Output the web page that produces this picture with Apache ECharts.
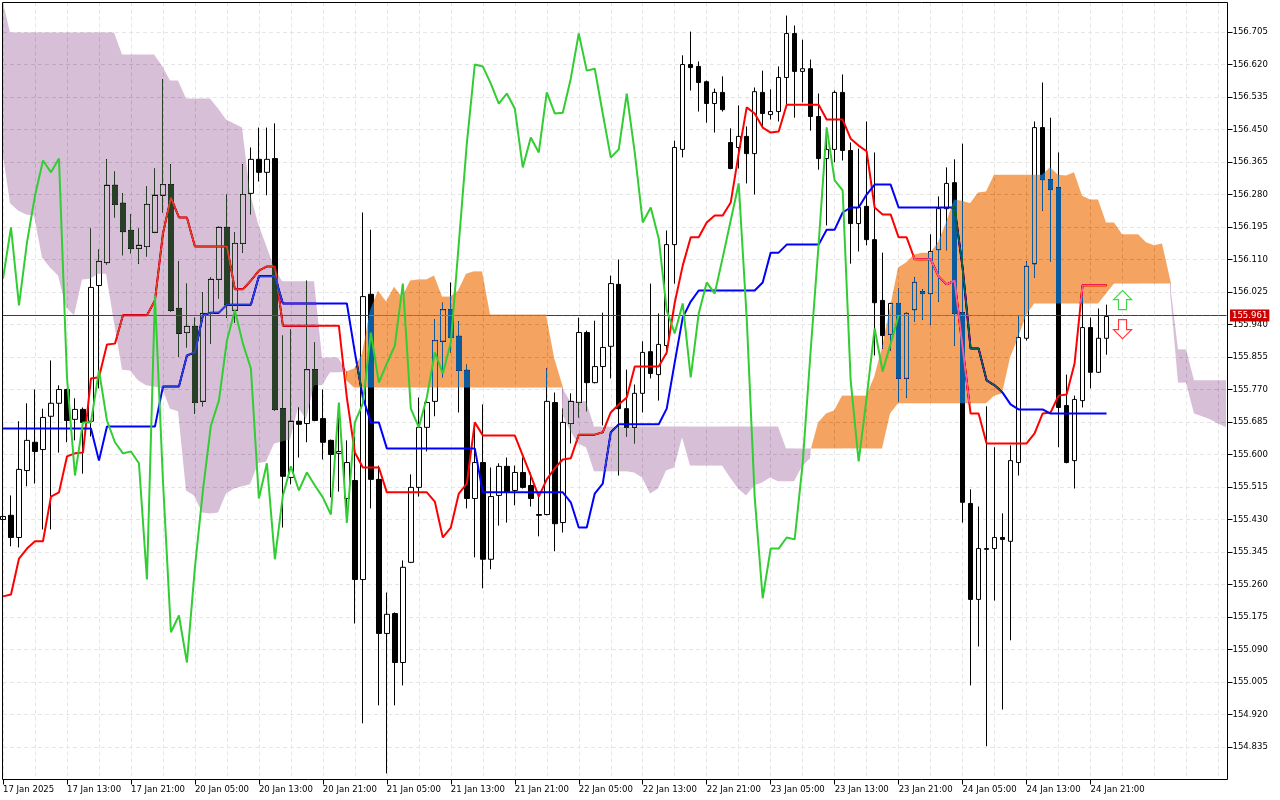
<!DOCTYPE html>
<html>
<head>
<meta charset="utf-8">
<style>html,body{margin:0;padding:0;background:#fff}#chart{width:1280px;height:800px}</style>
<script src="https://cdn.jsdelivr.net/npm/echarts@6/dist/echarts.min.js"></script>
</head>
<body>
<div id="chart"></div>
<script>
const timeLabels = ['17 Jan 2025','17 Jan 13:00','17 Jan 21:00','20 Jan 05:00','20 Jan 13:00','20 Jan 21:00','21 Jan 05:00','21 Jan 13:00','21 Jan 21:00','22 Jan 05:00','22 Jan 13:00','22 Jan 21:00','23 Jan 05:00','23 Jan 13:00','23 Jan 21:00','24 Jan 05:00','24 Jan 13:00','24 Jan 21:00'];
const priceTicks = [154.835,154.920,155.005,155.090,155.175,155.260,155.345,155.430,155.515,155.600,155.685,155.770,155.855,155.940,156.025,156.110,156.195,156.280,156.365,156.450,156.535,156.620,156.705];
const lastPriceLabel = '155.961';
const lastPriceLine = 155.9636;
const arrowUp = [[140,156.004]];
const arrowDown = [[140,155.928]];

const opens = [155.430,155.441,155.383,155.558,155.632,155.613,155.700,155.734,155.770,155.692,
155.718,155.687,156.042,156.102,156.304,156.257,156.186,156.139,156.144,156.181,
156.278,156.306,155.982,155.919,155.935,155.739,155.969,156.058,156.194,155.977,
156.152,156.283,156.372,156.338,156.374,155.720,155.540,155.687,155.681,155.822,
155.694,155.637,155.603,155.485,155.532,155.273,156.019,155.535,155.132,155.184,
155.056,155.318,155.514,155.671,155.739,155.896,155.979,155.909,155.820,155.485,
155.579,155.326,155.493,155.569,155.506,155.553,155.519,155.443,155.443,155.736,
155.422,155.681,155.736,155.919,155.788,155.830,155.883,156.045,155.720,155.671,
155.760,155.869,155.809,155.885,156.149,156.398,156.620,156.615,156.575,156.518,
156.547,156.416,156.403,156.432,156.387,156.547,156.489,156.497,156.586,156.701,
156.602,156.609,156.484,156.374,156.398,156.547,156.395,156.204,156.249,156.162,
156.003,155.914,155.995,155.799,155.979,156.026,156.021,156.136,156.243,156.311,
155.971,155.472,155.221,155.354,155.354,155.383,155.373,155.579,155.904,156.099,
156.455,156.319,156.298,155.728,155.584,155.741,155.932,155.815,155.904];
const closes = [155.438,155.383,155.561,155.637,155.608,155.697,155.734,155.770,155.689,155.718,
155.684,156.037,156.105,156.304,156.254,156.183,156.139,156.147,156.254,156.278,
156.306,155.977,155.917,155.935,155.736,155.969,156.058,156.194,155.992,156.152,
156.280,156.372,156.338,156.372,155.718,155.543,155.687,155.679,155.822,155.689,
155.632,155.600,155.608,155.579,155.273,156.013,155.535,155.132,155.182,155.056,
155.305,155.514,155.671,155.736,155.898,155.979,155.906,155.820,155.485,155.579,
155.326,155.490,155.569,155.501,155.553,155.514,155.485,155.441,155.739,155.419,
155.684,155.739,155.919,155.788,155.830,155.880,156.047,155.720,155.671,155.760,
155.867,155.812,155.888,156.149,156.403,156.620,156.612,156.573,156.518,156.547,
156.502,156.348,156.432,156.387,156.549,156.492,156.497,156.586,156.701,156.602,
156.609,156.484,156.374,156.398,156.547,156.395,156.204,156.246,156.162,155.997,
155.911,155.995,155.799,155.969,156.050,156.021,156.131,156.243,156.309,155.969,
155.475,155.221,155.354,155.352,155.383,155.378,155.584,155.906,156.092,156.455,
156.319,156.293,155.723,155.579,155.744,155.932,155.815,155.904,155.961];
const highs = [155.443,155.493,155.687,155.734,155.770,155.720,155.846,155.781,155.772,155.747,
155.723,156.191,156.136,156.372,156.340,156.283,156.228,156.191,156.301,156.348,
156.581,156.359,156.105,156.047,155.958,156.024,156.063,156.196,156.280,156.181,
156.359,156.403,156.455,156.455,156.466,155.911,155.927,155.723,156.055,155.893,
155.770,155.639,155.697,155.637,155.647,156.233,156.188,155.571,155.239,155.187,
155.323,155.548,155.749,155.741,155.953,155.997,156.050,155.948,155.835,155.681,
155.731,155.566,155.577,155.592,155.571,155.592,155.553,155.498,155.825,155.762,
155.720,155.760,155.958,155.924,155.950,155.971,156.068,156.110,155.822,155.783,
155.896,156.047,155.969,156.186,156.421,156.644,156.706,156.628,156.578,156.557,
156.589,156.453,156.513,156.458,156.560,156.604,156.555,156.615,156.748,156.722,
156.685,156.633,156.544,156.455,156.552,156.594,156.416,156.400,156.471,156.390,
156.128,155.997,156.034,155.971,156.063,156.032,156.176,156.275,156.351,156.372,
156.413,155.509,155.464,155.726,155.619,155.446,155.624,155.964,156.105,156.471,
156.573,156.481,156.390,155.809,155.754,156.016,155.958,155.982,155.992];
const lows = [155.422,155.360,155.357,155.517,155.524,155.404,155.404,155.605,155.632,155.637,
155.550,155.647,155.773,156.097,156.220,156.121,156.126,156.099,156.118,156.179,
156.233,155.974,155.856,155.880,155.707,155.726,155.890,156.008,155.958,155.945,
156.128,156.228,156.314,156.278,155.715,155.409,155.522,155.592,155.632,155.687,
155.587,155.488,155.503,155.422,155.158,154.897,155.459,154.944,154.766,154.944,
154.996,155.316,155.490,155.608,155.700,155.802,155.867,155.710,155.459,155.331,
155.250,155.300,155.414,155.422,155.467,155.511,155.464,155.386,155.441,155.347,
155.396,155.629,155.697,155.713,155.786,155.676,155.799,155.545,155.647,155.629,
155.710,155.799,155.741,155.861,156.047,156.377,156.552,156.497,156.468,156.442,
156.497,156.346,156.348,156.309,156.280,156.458,156.476,156.471,156.515,156.481,
156.521,156.447,156.345,156.199,156.364,156.369,156.099,156.131,156.147,155.859,
155.877,155.872,155.739,155.749,155.948,155.953,155.940,156.000,156.134,155.885,
155.422,154.996,155.098,154.837,155.218,154.933,155.114,155.545,155.898,156.063,
156.238,156.105,155.619,155.577,155.511,155.723,155.773,155.813,155.861];

const tenkan = [155.229,155.234,155.328,155.354,155.373,155.373,155.490,155.501,155.595,155.603,
155.605,155.799,155.802,155.888,155.890,155.964,155.964,155.964,155.964,156.003,
156.178,156.272,156.220,156.220,156.144,156.144,156.144,156.144,156.144,156.032,
156.032,156.055,156.081,156.092,156.092,155.937,155.937,155.937,155.937,155.937,
155.937,155.937,155.937,155.749,155.605,155.566,155.566,155.566,155.501,155.501,
155.501,155.501,155.501,155.501,155.477,155.383,155.409,155.498,155.524,155.684,
155.650,155.650,155.650,155.650,155.650,155.597,155.545,155.490,155.535,155.564,
155.587,155.590,155.652,155.652,155.652,155.658,155.710,155.731,155.749,155.830,
155.830,155.830,155.830,155.867,155.997,156.094,156.168,156.168,156.207,156.225,
156.225,156.259,156.387,156.508,156.492,156.455,156.442,156.445,156.515,156.515,
156.515,156.515,156.515,156.476,156.476,156.476,156.426,156.408,156.393,156.246,
156.228,156.228,156.168,156.168,156.111,156.111,156.111,156.066,156.045,156.055,
155.880,155.707,155.707,155.629,155.629,155.629,155.629,155.629,155.629,155.655,
155.707,155.710,155.754,155.757,155.838,156.043,156.043,156.043,156.043];

const kijun = [155.668,155.668,155.668,155.668,155.668,155.668,155.668,155.668,155.668,155.668,
155.668,155.668,155.584,155.673,155.673,155.673,155.673,155.673,155.673,155.673,
155.778,155.778,155.778,155.859,155.867,155.964,155.971,155.971,155.992,155.992,
155.992,155.992,156.066,156.066,156.066,155.995,155.995,155.995,155.995,155.995,
155.995,155.995,155.995,155.995,155.867,155.749,155.684,155.684,155.616,155.616,
155.616,155.616,155.616,155.616,155.616,155.616,155.616,155.616,155.616,155.616,
155.501,155.501,155.501,155.501,155.501,155.501,155.501,155.501,155.501,155.501,
155.501,155.475,155.409,155.409,155.498,155.524,155.658,155.679,155.679,155.679,
155.679,155.679,155.679,155.720,155.841,155.958,156.000,156.029,156.029,156.029,
156.029,156.029,156.029,156.029,156.029,156.050,156.128,156.128,156.149,156.149,
156.149,156.149,156.149,156.188,156.188,156.233,156.246,156.246,156.280,156.306,
156.306,156.306,156.246,156.246,156.246,156.246,156.246,156.246,156.246,156.246,
156.089,155.877,155.877,155.794,155.781,155.762,155.731,155.718,155.718,155.718,
155.718,155.707,155.707,155.707,155.707,155.707,155.707,155.707,155.707];

const chikou = [156.060,156.194,155.990,156.155,156.277,156.369,156.338,156.374,155.802,155.545,
155.684,155.684,155.820,155.689,155.632,155.603,155.608,155.577,155.273,156.016,
155.532,155.135,155.179,155.056,155.305,155.506,155.676,155.741,155.898,155.977,
155.890,155.825,155.485,155.577,155.326,155.493,155.569,155.506,155.553,155.519,
155.488,155.443,155.736,155.422,155.684,155.734,155.919,155.788,155.838,155.885,
156.047,155.720,155.671,155.749,155.867,155.812,155.893,156.152,156.413,156.620,
156.615,156.570,156.518,156.544,156.505,156.351,156.429,156.390,156.547,156.492,
156.494,156.583,156.701,156.604,156.609,156.492,156.377,156.398,156.544,156.390,
156.207,156.246,156.165,155.977,155.917,155.995,155.802,155.969,156.050,156.021,
156.115,156.212,156.309,155.958,155.488,155.224,155.354,155.354,155.383,155.378,
155.577,155.872,156.152,156.455,156.317,156.291,155.794,155.582,155.749,155.930,
155.817,155.890,155.964];

const spanA = [156.382,156.257,156.238,156.228,156.225,156.115,156.089,156.068,155.985,155.964,
156.058,156.060,156.073,156.073,155.945,155.822,155.820,155.794,155.781,155.778,
155.773,155.720,155.713,155.506,155.493,155.448,155.446,155.448,155.498,155.511,
155.517,155.522,155.577,155.582,155.629,155.634,155.639,155.723,155.692,155.781,
155.781,155.815,155.815,155.817,155.825,155.864,155.977,156.029,156.000,156.039,
156.011,156.055,156.058,156.058,156.068,156.013,156.013,156.029,156.073,156.079,
156.079,155.966,155.966,155.966,155.966,155.966,155.966,155.966,155.966,155.854,
155.707,155.663,155.629,155.619,155.556,155.556,155.556,155.556,155.556,155.553,
155.540,155.498,155.511,155.558,155.566,155.645,155.571,155.571,155.571,155.571,
155.571,155.540,155.511,155.493,155.519,155.527,155.540,155.530,155.530,155.530,
155.569,155.590,155.684,155.707,155.715,155.754,155.754,155.754,155.754,155.802,
155.880,155.985,156.089,156.102,156.123,156.128,156.128,156.155,156.207,156.267,
156.264,156.257,156.285,156.288,156.332,156.332,156.332,156.332,156.332,156.332,
156.332,156.351,156.332,156.330,156.338,156.277,156.267,156.267,156.207,156.207,
156.176,156.176,156.176,156.155,156.147,156.152,156.026,155.788,155.788,155.707,
155.700,155.692,155.681,155.671];

const spanB = [156.782,156.704,156.704,156.704,156.704,156.704,156.704,156.704,156.704,156.704,
156.704,156.704,156.704,156.704,156.704,156.646,156.646,156.646,156.646,156.646,
156.617,156.578,156.578,156.531,156.531,156.531,156.531,156.505,156.476,156.466,
156.455,156.283,156.204,156.147,156.089,156.053,156.053,156.053,156.053,156.053,
155.854,155.854,155.854,155.794,155.775,155.775,155.775,155.775,155.775,155.775,
155.775,155.775,155.775,155.775,155.775,155.775,155.775,155.775,155.775,155.775,
155.775,155.775,155.775,155.775,155.775,155.775,155.775,155.775,155.775,155.775,
155.775,155.739,155.739,155.739,155.673,155.673,155.673,155.673,155.673,155.673,
155.673,155.673,155.673,155.673,155.673,155.673,155.673,155.673,155.673,155.673,
155.673,155.673,155.673,155.673,155.673,155.673,155.673,155.673,155.616,155.616,
155.616,155.616,155.616,155.616,155.616,155.616,155.616,155.616,155.616,155.616,
155.616,155.707,155.734,155.734,155.734,155.734,155.734,155.734,155.734,155.734,
155.734,155.734,155.734,155.734,155.754,155.760,155.854,155.906,155.964,155.995,
155.995,155.995,155.995,155.995,155.995,155.995,155.995,155.995,156.021,156.047,
156.047,156.047,156.047,156.047,156.047,156.047,156.047,155.875,155.875,155.794,
155.794,155.794,155.794,155.794];

const BAR_COUNT = spanA.length;
const categories = spanA.map((_, i) => String(i));
const candles = opens.map((o, i) => [o, closes[i], lows[i], highs[i]]);
const priceLine = categories.map(() => lastPriceLine);
const LABEL_FONT = '"DejaVu Sans Condensed","DejaVu Sans",sans-serif';

function cloudItem(params, api) {
  const i = api.value(0);
  if (i >= BAR_COUNT - 1) return null;
  const a0 = spanA[i], a1 = spanA[i + 1], b0 = spanB[i], b1 = spanB[i + 1];
  const pt = (x, v) => { const c = api.coord([x, v]); return [Math.floor(c[0]), c[1]]; };
  const UP = '#0B5B9F', DOWN = '#274027';
  const poly = (pts, fill) => ({ type: 'polygon', silent: true, shape: { points: pts }, style: { fill: fill } });
  const d0 = a0 - b0, d1 = a1 - b1;
  if (d0 * d1 >= 0) {
    const fill = (d0 + d1) >= 0 ? UP : DOWN;
    return poly([pt(i, a0), pt(i + 1, a1), pt(i + 1, b1), pt(i, b0)], fill);
  }
  const t = d0 / (d0 - d1);
  const v = a0 + (a1 - a0) * t;
  const cross = api.coord([i + t, v]);
  const c = [Math.round(cross[0]), cross[1]];
  return { type: 'group', children: [
    poly([pt(i, a0), c, pt(i, b0)], d0 >= 0 ? UP : DOWN),
    poly([c, pt(i + 1, a1), pt(i + 1, b1)], d1 >= 0 ? UP : DOWN)
  ] };
}

const lineSeries = (data, color, z) => ({ type: 'line', data: data, symbol: 'none', z: z, silent: true, lineStyle: { color: color, width: 2 } });
const ARROW_UP = 'path://M9 0 L18 9 L13 9 L13 19 L5 19 L5 9 L0 9 Z';
const ARROW_DOWN = 'path://M5 0 L13 0 L13 10 L18 10 L9 19 L0 10 L5 10 Z';

const chart = echarts.init(document.getElementById('chart'), null, { renderer: 'canvas', width: 1280, height: 800 });
chart.setOption({
  animation: false,
  backgroundColor: '#ffffff',
  tooltip: { show: false },
  legend: { show: false },
  grid: { left: 2.5, top: 2.5, width: 1224, height: 777, containLabel: false },
  xAxis: {
    type: 'category', data: categories, boundaryGap: false,
    axisLine: { show: false },
    axisTick: { show: true, length: 5, lineStyle: { color: '#000' }, interval: i => i % 8 === 0 && i / 8 < timeLabels.length },
    axisLabel: { show: true, color: '#000', fontFamily: LABEL_FONT, fontSize: 9.5, align: 'left', margin: 5, hideOverlap: false,
      interval: i => i % 8 === 0 && i / 8 < timeLabels.length,
      formatter: (v, i) => timeLabels[i / 8] || '' },
    splitLine: { show: true, interval: 3, lineStyle: { color: '#E6E6E6', type: [4, 3], width: 1 } }
  },
  yAxis: {
    type: 'value', position: 'right', offset: 1, min: 154.75, max: 156.7822, interval: 0.085, scale: true,
    axisLine: { show: false },
    axisTick: { show: true, length: 5, lineStyle: { color: '#000' }, customValues: priceTicks },
    axisLabel: { color: '#000', fontFamily: LABEL_FONT, fontSize: 9.5, margin: 5, align: 'left', customValues: priceTicks, formatter: v => v.toFixed(3) },
    splitLine: { show: true, lineStyle: { color: '#E6E6E6', type: [4, 3], width: 1 } }
  },
  series: [
    { type: 'candlestick', data: candles, barWidth: 5, z: 2, silent: true,
      itemStyle: { color: '#ffffff', color0: '#000000', borderColor: '#000000', borderColor0: '#000000', borderWidth: 1 } },
    lineSeries(tenkan, '#FF0000', 3),
    lineSeries(kijun, '#0000FF', 3),
    { type: 'line', data: priceLine, symbol: 'none', z: 3, silent: true, clip: false, lineStyle: { color: '#C00000', width: 1 },
      endLabel: { show: true, distance: 3.5, formatter: lastPriceLabel, color: '#fff', backgroundColor: '#CC0000', fontFamily: LABEL_FONT, fontSize: 9.5, padding: [1, 2, 1, 2] } },
    { type: 'custom', coordinateSystem: 'cartesian2d', z: 4, silent: true, renderItem: cloudItem, clip: false, blendMode: 'difference',
      data: spanA.map((_, i) => [i, spanA[i], spanB[i]]), encode: { x: 0, y: [1, 2] } },
    lineSeries(chikou, '#32CD32', 5),
    { type: 'scatter', data: arrowUp, symbol: ARROW_UP, symbolSize: [18, 19], z: 6, silent: true, itemStyle: { color: '#fff', borderColor: '#44D44C', borderWidth: 1.2, opacity: 1 } },
    { type: 'scatter', data: arrowDown, symbol: ARROW_DOWN, symbolSize: [18, 19], z: 6, silent: true, itemStyle: { color: '#fff', borderColor: '#FF3B3B', borderWidth: 1.2, opacity: 1 } }
  ],
  graphic: [{ type: 'rect', z: 100, silent: true, shape: { x: 2.5, y: 2.5, width: 1225, height: 777 }, style: { fill: 'none', stroke: '#000', lineWidth: 1 } }]
});
</script>
</body>
</html>
